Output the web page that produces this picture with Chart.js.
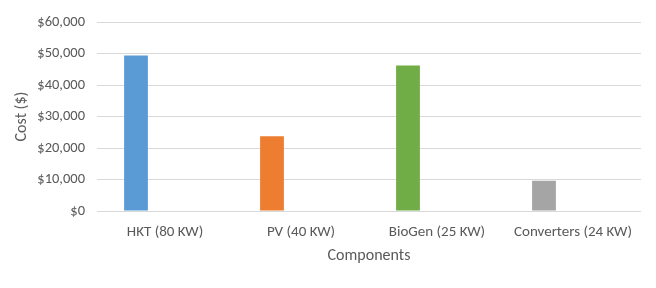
<!DOCTYPE html>
<html>
<head>
<meta charset="utf-8">
<script src="https://cdn.jsdelivr.net/npm/chart.js@4/dist/chart.umd.min.js"></script>
<style>
  html, body { margin: 0; padding: 0; background: #fff; }
  #wrap { width: 656px; height: 288px; }
</style>
</head>
<body>
<div id="wrap"><canvas id="chart"></canvas></div>
<script>
// data
const categories = ['HKT (80 KW)', 'PV (40 KW)', 'BioGen (25 KW)', 'Converters (24 KW)'];
const costValues = [49400, 23700, 46200, 9600];
const barColors = ['#5B9BD5', '#ED7D31', '#70AD47', '#A5A5A5'];
const yTicks = [0, 10000, 20000, 30000, 40000, 50000, 60000];

const textColor = '#595959';
const fontFamily = 'Carlito, Calibri, "Open Sans", "Liberation Sans", sans-serif';

new Chart(document.getElementById('chart'), {
    type: 'bar',
    data: {
        labels: categories,
        datasets: [
            {
                label: 'Cost',
                data: costValues,
                backgroundColor: barColors,
                categoryPercentage: 0.853,
                barPercentage: 0.41
            },
            {
                // empty second series, keeps the bars in the left slot like the original
                label: '',
                data: categories.map(() => null),
                backgroundColor: 'transparent',
                categoryPercentage: 0.853,
                barPercentage: 0.41
            }
        ]
    },
    options: {
        responsive: true,
        maintainAspectRatio: false,
        animation: false,
        layout: { padding: { top: 22, right: 15, left: 8, bottom: 18 } },
        plugins: {
            legend: { display: false },
            tooltip: { enabled: false }
        },
        scales: {
            x: {
                grid: { display: false },
                border: { display: false },
                ticks: {
                    color: textColor,
                    font: { family: fontFamily, size: 15 },
                    padding: 4,
                    maxRotation: 0
                },
                title: {
                    display: true,
                    text: 'Components',
                    color: textColor,
                    font: { family: fontFamily, size: 16 },
                    padding: { top: 4 }
                },
                afterFit: (scale) => { scale.height = 288 - 211 - 18; }
            },
            y: {
                min: 0,
                max: 60000,
                afterBuildTicks: (scale) => { scale.ticks = yTicks.map(v => ({ value: v })); },
                grid: { color: '#D9D9D9', lineWidth: 1, drawTicks: false },
                border: { display: false },
                ticks: {
                    color: textColor,
                    font: { family: fontFamily, size: 14.5 },
                    padding: 12,
                    callback: (v) => '$' + v.toLocaleString('en-US')
                },
                title: {
                    display: true,
                    text: 'Cost ($)',
                    color: textColor,
                    font: { family: fontFamily, size: 16 },
                    padding: { bottom: 4 }
                },
                afterFit: (scale) => { scale.width = 97 - 8; }
            }
        }
    }
});
</script>
</body>
</html>
